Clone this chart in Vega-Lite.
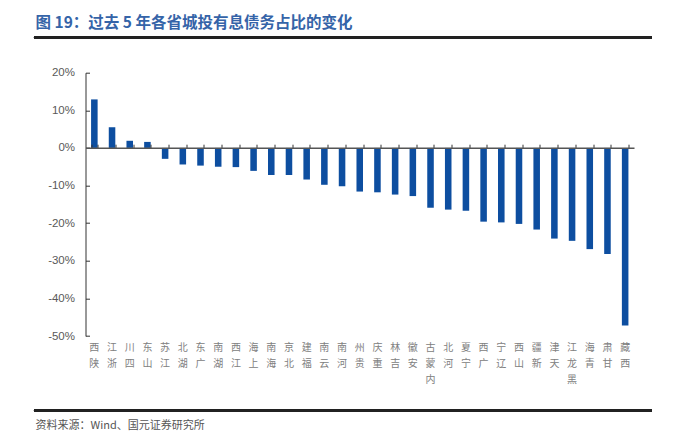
{
  "$schema": "https://vega.github.io/schema/vega-lite/v6.json",
  "width": 548.5,
  "height": 263.3,
  "autosize": {"type": "none"},
  "padding": {"left": 85.5, "top": 72.7, "right": 45, "bottom": 102},
  "background": "white",
  "config": {
    "view": {"stroke": null},
    "axisY": {
      "labelOverlap": false,
      "labelFlush": false,
      "grid": false,
      "domainColor": "#333333",
      "tickColor": "#333333",
      "tickSize": -4,
      "labelPadding": 15,
      "labelFont": "Liberation Sans",
      "labelFontSize": 11.5,
      "labelColor": "#595959"
    }
  },
  "title": {
    "text": "图 19：过去 5 年各省城投有息债务占比的变化",
    "anchor": "start",
    "frame": "group",
    "dx": -50,
    "dy": 17,
    "offset": 7,
    "baseline": "bottom",
    "font": "Noto Sans CJK SC",
    "fontSize": 15.5,
    "fontWeight": "bold",
    "color": "#3564A8"
  },
  "data": {
    "values": [
      {"p": "陕西", "v": 12.9},
      {"p": "浙江", "v": 5.5},
      {"p": "四川", "v": 1.9},
      {"p": "山东", "v": 1.6},
      {"p": "江苏", "v": -2.9},
      {"p": "湖北", "v": -4.4},
      {"p": "广东", "v": -4.7},
      {"p": "湖南", "v": -5.0},
      {"p": "江西", "v": -5.1},
      {"p": "上海", "v": -6.1},
      {"p": "海南", "v": -7.2},
      {"p": "北京", "v": -7.2},
      {"p": "福建", "v": -8.4},
      {"p": "云南", "v": -9.8},
      {"p": "河南", "v": -10.2},
      {"p": "贵州", "v": -11.6},
      {"p": "重庆", "v": -11.8},
      {"p": "吉林", "v": -12.4},
      {"p": "安徽", "v": -12.8},
      {"p": "内蒙古", "v": -15.9},
      {"p": "河北", "v": -16.4},
      {"p": "宁夏", "v": -16.7},
      {"p": "广西", "v": -19.6},
      {"p": "辽宁", "v": -19.8},
      {"p": "山西", "v": -20.2},
      {"p": "新疆", "v": -21.7},
      {"p": "天津", "v": -24.1},
      {"p": "黑龙江", "v": -24.7},
      {"p": "青海", "v": -26.9},
      {"p": "甘肃", "v": -28.2},
      {"p": "西藏", "v": -47.2}
    ]
  },
  "resolve": {"scale": {"x": "independent"}, "axis": {"x": "independent"}},
  "layer": [
    {
      "mark": {"type": "bar", "color": "#0D4EA0"},
      "encoding": {
        "x": {
          "field": "p",
          "type": "nominal",
          "sort": null,
          "scale": {"paddingInner": 0.63, "paddingOuter": 0.315},
          "axis": {
            "orient": "bottom",
            "domain": false,
            "ticks": false,
            "labelAngle": 0,
            "labelExpr": "reverse(split(datum.label, ''))",
            "labelFont": "Noto Sans CJK SC",
            "labelFontSize": 10,
            "labelLineHeight": 16,
            "labelColor": "#808080",
            "labelBaseline": "top",
            "labelPadding": 6,
            "labelOverlap": false,
            "title": "资料来源：Wind、国元证券研究所",
            "titleFont": "Noto Sans CJK SC",
            "titleFontSize": 11,
            "titleFontWeight": "normal",
            "titleColor": "#555555",
            "titleAnchor": "start",
            "titleAlign": "left",
            "titleBaseline": "middle",
            "titleX": -50.5,
            "titleY": 89
          }
        },
        "y": {
          "field": "v",
          "type": "quantitative",
          "scale": {"domain": [-50, 20], "nice": false},
          "axis": {
            "values": [20, 10, 0, -10, -20, -30, -40, -50],
            "labelExpr": "datum.value + '%'",
            "title": null
          }
        }
      }
    },
    {
      "mark": {"type": "bar", "opacity": 0},
      "encoding": {
        "x": {
          "field": "p",
          "type": "nominal",
          "sort": null,
          "scale": {"paddingInner": 0.63, "paddingOuter": 0.315},
          "axis": {
            "orient": "top",
            "offset": -75,
            "labels": false,
            "title": null,
            "domain": true,
            "domainColor": "#555555",
            "domainWidth": 1.5,
            "ticks": true,
            "tickBand": "extent",
            "tickSize": 3.5,
            "tickColor": "#333333",
            "zindex": 1
          }
        },
        "y": {
          "field": "v",
          "type": "quantitative",
          "scale": {"domain": [-50, 20], "nice": false},
          "axis": {
            "values": [20, 10, 0, -10, -20, -30, -40, -50],
            "labelExpr": "datum.value + '%'",
            "title": null
          }
        }
      }
    },
    {
      "mark": {"type": "rule", "color": "#222222", "strokeWidth": 2},
      "encoding": {
        "x": {"datum": -0.0939, "type": "quantitative", "scale": {"domain": [0, 1]}, "axis": null},
        "x2": {"datum": 1.0328},
        "y": {
          "datum": 29.31,
          "type": "quantitative",
          "axis": {
            "values": [20, 10, 0, -10, -20, -30, -40, -50],
            "labelExpr": "datum.value + '%'",
            "title": null
          }
        }
      }
    },
    {
      "mark": {"type": "rule", "color": "#222222", "strokeWidth": 2},
      "encoding": {
        "x": {"datum": -0.0939, "type": "quantitative", "scale": {"domain": [0, 1]}, "axis": null},
        "x2": {"datum": 1.0328},
        "y": {
          "datum": -69.86,
          "type": "quantitative",
          "axis": {
            "values": [20, 10, 0, -10, -20, -30, -40, -50],
            "labelExpr": "datum.value + '%'",
            "title": null
          }
        }
      }
    }
  ]
}
